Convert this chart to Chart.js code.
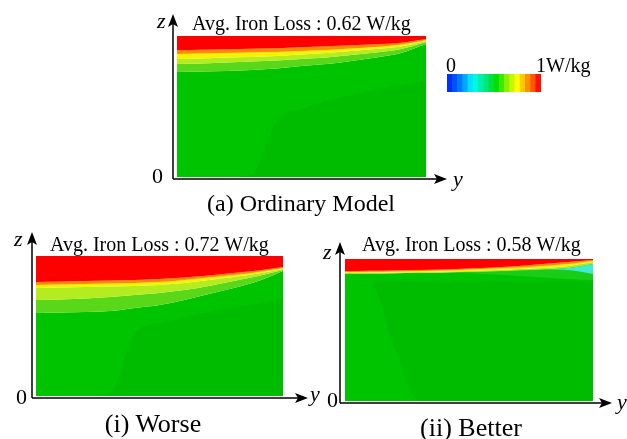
<!DOCTYPE html>
<html>
<head>
<meta charset="utf-8">
<script src="https://cdn.jsdelivr.net/npm/chart.js@4.4.1/dist/chart.umd.min.js"></script>
<style>
  html, body { margin: 0; padding: 0; background: #fff; }
  #page { position: relative; width: 627px; height: 439px; overflow: hidden; }
  canvas { position: absolute; left: 0; top: 0; }
  .t { position: absolute; font-family: "Liberation Serif", "Times New Roman", serif; line-height: 1; white-space: nowrap; color: #000; }
  .c { transform: translateX(-50%); }
  .i { font-style: italic; }
</style>
</head>
<body>
<div id="page">
  <canvas id="panelA" width="627" height="439"></canvas>
  <canvas id="panelW" width="627" height="439"></canvas>
  <canvas id="panelB" width="627" height="439"></canvas>
  <canvas id="cbar" width="94" height="18" style="left:447px;top:74px"></canvas>

  <div class="t" style="left:192px;top:13px;font-size:20px">Avg. Iron Loss : 0.62 W/kg</div>
  <div class="t" style="left:50px;top:234px;font-size:20px">Avg. Iron Loss : 0.72 W/kg</div>
  <div class="t" style="left:362px;top:234px;font-size:20px">Avg. Iron Loss : 0.58 W/kg</div>

  <div class="t c" style="left:301px;top:191px;font-size:24px">(a) Ordinary Model</div>
  <div class="t c" style="left:153px;top:411px;font-size:26px">(i) Worse</div>
  <div class="t c" style="left:471px;top:415px;font-size:26px">(ii) Better</div>

  <div class="t i" style="left:157px;top:10px;font-size:22px">z</div>
  <div class="t i" style="left:14px;top:228px;font-size:22px">z</div>
  <div class="t i" style="left:323px;top:241px;font-size:22px">z</div>

  <div class="t" style="left:152px;top:165px;font-size:22px">0</div>
  <div class="t" style="left:16px;top:386px;font-size:22px">0</div>
  <div class="t" style="left:327px;top:389px;font-size:22px">0</div>

  <div class="t i" style="left:453px;top:168px;font-size:22px">y</div>
  <div class="t i" style="left:310px;top:383px;font-size:22px">y</div>
  <div class="t i" style="left:617px;top:391px;font-size:22px">y</div>

  <div class="t" style="left:446px;top:55px;font-size:20px">0</div>
  <div class="t" style="left:536px;top:55px;font-size:20px">1W/kg</div>
</div>
<script>
// positions along y (0 = left edge, 1 = right edge)
const yPos = [0, 0.1, 0.2, 0.3, 0.4, 0.5, 0.6, 0.7, 0.8, 0.9, 1];

// band colours, top to bottom
const bandColors = ['#ff0000', '#ff8c00', '#f4f400', '#b4ec20', '#58d818'];
const mainGreen = '#00c400';
const darkGreen = '#00bc00';
const cyanColor = '#40ecd0';
const paleGreen = '#18cc18';

// contour boundaries (z, 0 = bottom, 1 = top) - ordinary model
const aTop     = [1, 1, 1, 1, 1, 1, 1, 1, 1, 1, 1];
const aRed     = [.899, .902, .906, .909, .913, .920, .927, .934, .942, .953, .979];
const aOrange  = [.872, .876, .879, .883, .887, .894, .901, .911, .922, .940, .972];
const aYellow  = [.837, .840, .847, .851, .858, .869, .879, .894, .908, .926, .965];
const aYGreen  = [.801, .805, .812, .819, .826, .837, .848, .865, .883, .908, .957];
const aLGreen  = [.745, .748, .752, .759, .770, .787, .801, .823, .848, .879, .943];
const aDark    = [0, 0, 0, 0.02, .40, .48, .54, .58, .62, .65, .68];
const aDarkLow = [0, 0, 0, 0, 0, 0, 0, 0, 0, 0, 0];

// worse model
const wTop     = [1, 1, 1, 1, 1, 1, 1, 1, 1, 1, 1];
const wRed     = [.814, .818, .821, .825, .829, .836, .846, .861, .879, .896, .921];
const wOrange  = [.793, .796, .800, .804, .807, .814, .829, .846, .864, .886, .914];
const wYellow  = [.771, .775, .779, .782, .786, .793, .807, .829, .850, .875, .907];
const wYGreen  = [.686, .689, .696, .707, .721, .736, .757, .786, .821, .857, .900];
const wLGreen  = [.593, .596, .600, .607, .629, .650, .686, .729, .771, .821, .893];
const wDark    = [0, 0, 0, 0.02, .45, .52, .56, .60, .63, .66, .70];
const wDarkLow = [0, 0, 0, 0, 0, 0, 0, 0, 0, 0, 0];

// better model
const bTop     = [1, 1, 1, 1, 1, 1, 1, 1, 1, 1, 1];
const bRed     = [.915, .917, .919, .923, .926, .933, .940, .951, .965, .979, .993];
const bOrange  = [.908, .910, .912, .915, .919, .926, .933, .940, .951, .965, .986];
const bYellow  = [.901, .903, .905, .908, .912, .915, .923, .930, .937, .951, .979];
const bYGreen  = [.898, .898, .900, .901, .905, .908, .912, .919, .926, .937, .965];
const bLGreen  = [.898, .898, .900, .901, .905, .900, .890, .880, .870, .860, .850];
const bCyanLow = [.898, .898, .900, .901, .905, .908, .912, .919, .926, .922, .895];
const bDark    = [.84, .84, .84, .84, .84, .84, .84, .84, .84, .84, .84];
const bDarkLow = [.84, .84, .37, 0, 0, 0, 0, 0, 0, 0, 0];

// colour scale 0 .. 1 W/kg
const cbLevels = ['0', '1', '2', '3', '4', '5', '6', '7', '8', '9', '10', '11', '12', '13', '14', '15', '16', '17'];
const cbColors = ['#0030ff', '#0050ff', '#0078ff', '#00a8ff', '#00e0ff', '#00f8e0', '#00f0a8', '#00e878',
                  '#00e040', '#00e000', '#40e800', '#88f000', '#c8f800', '#ffff00', '#ffc800', '#ff9000',
                  '#ff5800', '#ff1000'];

const pts = arr => yPos.map((v, j) => ({ x: v, y: arr[j] }));

function line(arr, fill, color, order) {
  return {
    data: pts(arr), fill: fill, backgroundColor: color, borderWidth: 0,
    pointRadius: 0, cubicInterpolationMode: 'monotone', order: order
  };
}

function bands(bounds, extras) {
  const ds = bounds.map((b, i) =>
    line(b, i < bounds.length - 1 ? '+1' : 'start', i < bounds.length - 1 ? bandColors[i] : mainGreen, 10));
  extras.forEach(e => {
    ds.push(line(e.top, '+1', e.color, e.order));
    ds.push(line(e.low, false, 'transparent', e.order));
  });
  return ds;
}

const arrows = {
  id: 'arrows',
  afterDraw(chart, args, o) {
    const a = chart.chartArea, ctx = chart.ctx;
    const vx = a.left - o.vOff, hy = a.bottom + o.hOff;
    const topTip = a.top - o.vTip, rightTip = a.right + o.hTip;
    ctx.save();
    ctx.strokeStyle = '#000';
    ctx.fillStyle = '#000';
    ctx.lineWidth = 1.5;
    ctx.beginPath();
    ctx.moveTo(vx, hy);
    ctx.lineTo(vx, topTip + 6);
    ctx.moveTo(vx, hy);
    ctx.lineTo(rightTip - 6, hy);
    ctx.stroke();
    // arrow heads
    ctx.beginPath();
    ctx.moveTo(vx, topTip);
    ctx.lineTo(vx + 5, topTip + 13);
    ctx.lineTo(vx, topTip + 10);
    ctx.lineTo(vx - 5, topTip + 13);
    ctx.closePath();
    ctx.fill();
    ctx.beginPath();
    ctx.moveTo(rightTip, hy);
    ctx.lineTo(rightTip - 13, hy - 5);
    ctx.lineTo(rightTip - 10, hy);
    ctx.lineTo(rightTip - 13, hy + 5);
    ctx.closePath();
    ctx.fill();
    ctx.restore();
  }
};

function panel(id, box, datasets, ar) {
  new Chart(document.getElementById(id), {
    type: 'line',
    data: { datasets: datasets },
    options: {
      responsive: false, animation: false, devicePixelRatio: 1, events: [],
      layout: { padding: { left: box[0], top: box[1], right: 627 - box[2], bottom: 439 - box[3] } },
      scales: {
        x: { type: 'linear', min: 0, max: 1, display: false },
        y: { min: 0, max: 1, display: false }
      },
      plugins: { legend: { display: false }, tooltip: { enabled: false }, arrows: ar }
    },
    plugins: [arrows]
  });
}

panel('panelA', [177, 36, 426, 177],
  bands([aTop, aRed, aOrange, aYellow, aYGreen, aLGreen],
        [{ top: aDark, low: aDarkLow, color: darkGreen, order: 5 }]),
  { vOff: 4, vTip: 22, hOff: 2, hTip: 21 });

panel('panelW', [36, 256, 283, 396],
  bands([wTop, wRed, wOrange, wYellow, wYGreen, wLGreen],
        [{ top: wDark, low: wDarkLow, color: darkGreen, order: 5 }]),
  { vOff: 4, vTip: 24, hOff: 2, hTip: 25 });

panel('panelB', [345, 259, 593, 401],
  bands([bTop, bRed, bOrange, bYellow, bYGreen],
        [{ top: bYGreen, low: bLGreen, color: paleGreen, order: 6 },
         { top: bDark, low: bDarkLow, color: darkGreen, order: 5 },
         { top: bYGreen, low: bCyanLow, color: cyanColor, order: 4 }]),
  { vOff: 5, vTip: 17, hOff: 2, hTip: 19 });

new Chart(document.getElementById('cbar'), {
  type: 'bar',
  data: { labels: cbLevels, datasets: [{ data: cbLevels.map(() => 1), backgroundColor: cbColors,
    borderWidth: 0, barPercentage: 1, categoryPercentage: 1 }] },
  options: {
    responsive: false, animation: false, devicePixelRatio: 1, events: [],
    layout: { padding: 0 },
    scales: { x: { display: false }, y: { min: 0, max: 1, display: false } },
    plugins: { legend: { display: false }, tooltip: { enabled: false } }
  }
});
</script>
</body>
</html>
